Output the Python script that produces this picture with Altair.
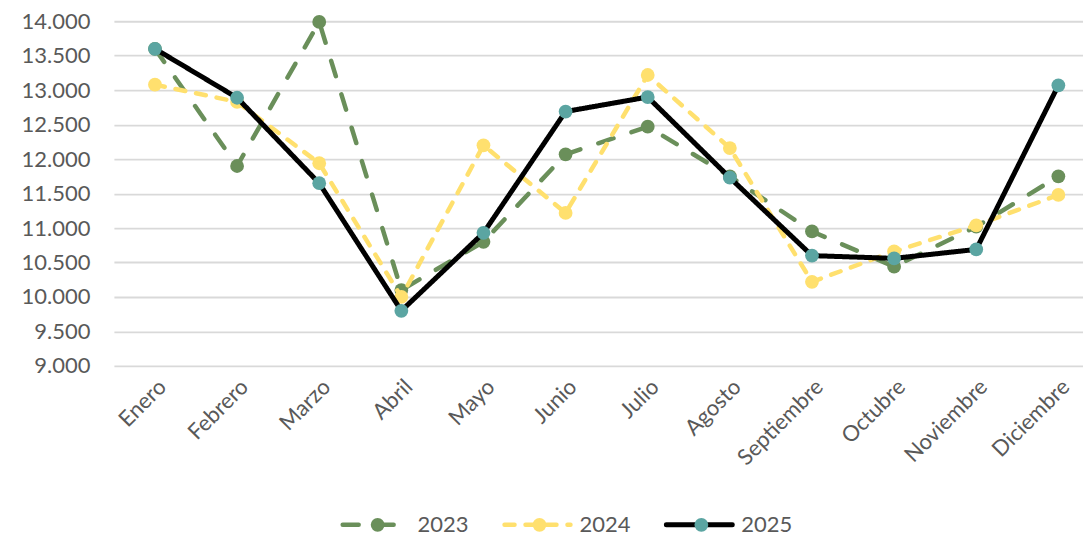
import altair as alt
import pandas as pd

months = ["Enero", "Febrero", "Marzo", "Abril", "Mayo", "Junio", "Julio",
          "Agosto", "Septiembre", "Octubre", "Noviembre", "Diciembre"]
years = ["2023", "2024", "2025"]
v2023 = [13600, 11900, 13990, 10100, 10800, 12070, 12470, 11750, 10950, 10440, 11020, 11750]
v2024 = [13080, 12830, 11940, 10000, 12200, 11220, 13220, 12160, 10220, 10660, 11040, 11480]
v2025 = [13600, 12890, 11650, 9800, 10930, 12690, 12900, 11730, 10600, 10560, 10690, 13070]
y_ticks = [9000, 9500, 10000, 10500, 11000, 11500, 12000, 12500, 13000, 13500, 14000]

line_colors = ["#6A8F5A", "#FFE06E", "#000000"]
point_colors = ["#6A8F5A", "#FFE06E", "#5BA5A2"]
dashes = [[16, 19], [10, 11], [1, 0]]
widths = [4.5, 4.5, 5]

rows = []
for yr, vals in zip(years, [v2023, v2024, v2025]):
    for i, (m, v) in enumerate(zip(months, vals)):
        rows.append({"idx": i, "mes": m, "year": yr, "value": v})
df = pd.DataFrame(rows)

FONT = "Lato"
TXT = "#595959"
label_expr = "[" + ",".join(f"'{m}'" for m in months) + "][datum.value]"

x_enc = alt.X("idx:Q", scale=alt.Scale(domain=[-0.5, 11.3], nice=False, zero=False),
              axis=alt.Axis(values=list(range(12)), labelExpr=label_expr, title=None,
                            grid=False, domain=False, ticks=False, labelAngle=-45,
                            labelFontSize=22, labelFont=FONT, labelColor=TXT,
                            labelPadding=10, labelOverlap=False))
y_enc = alt.Y("value:Q", scale=alt.Scale(domain=[9000, 14000], nice=False, zero=False),
              axis=alt.Axis(values=y_ticks, title=None, domain=False, ticks=False,
                            labelExpr="replace(format(datum.value, ','), ',', '.')",
                            labelFontSize=22, labelFont=FONT, labelColor=TXT,
                            labelPadding=24, gridColor="#D9D9D9", gridWidth=1.8))

base = alt.Chart(df).encode(x=x_enc, y=y_enc)
layers = []
for i, yr in enumerate(years):
    f = base.transform_filter(alt.datum.year == yr)
    layers.append(f.mark_line(color=line_colors[i], strokeWidth=widths[i],
                              strokeDash=dashes[i], strokeCap="round", strokeJoin="round"))
    layers.append(f.mark_circle(color=point_colors[i], size=190, opacity=1))

main = alt.layer(*layers).properties(width=970, height=345)

leg_df = pd.DataFrame({"year": [int(y) for y in years]})
lx = alt.X("year:Q", scale=alt.Scale(domain=[2023 - 264 / 162, 2023 + 706 / 162], nice=False, zero=False),
           axis=None)
leg_base = alt.Chart(leg_df).encode(x=lx, y=alt.value(10))
leg_layers = []
for i, yr in enumerate(years):
    f = leg_base.transform_filter(alt.datum.year == int(yr))
    leg_layers.append(f.mark_rule(color=line_colors[i], strokeWidth=widths[i], strokeDash=dashes[i],
                                  strokeCap="round", xOffset=-35, x2Offset=31)
                      .encode(x2=alt.X2("year")))
    leg_layers.append(f.mark_circle(color=point_colors[i], size=190, opacity=1))
    leg_layers.append(f.mark_text(align="left", baseline="middle", dx=40, font=FONT,
                                  fontSize=22, color=TXT).encode(text="year:N"))
legend = alt.layer(*leg_layers).properties(width=970, height=20)

chart = alt.vconcat(main, legend, spacing=45).properties(
    padding={"left": 13, "top": 2, "right": 0, "bottom": 0}
).configure_view(stroke=None)

chart.save("out.html", embed_options={"renderer": "svg", "actions": False})
